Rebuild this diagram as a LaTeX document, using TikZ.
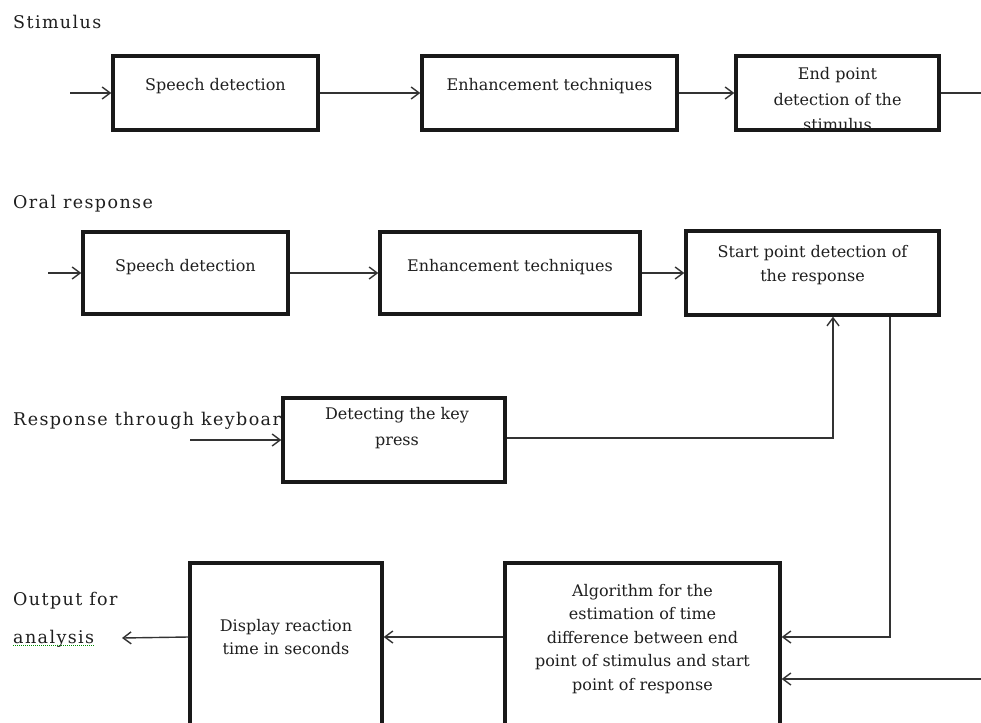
\documentclass[tikz,border=0pt]{standalone}
\usepackage{fontspec}
\setmainfont{DejaVu Serif}
\newfontfamily\lblfont[LetterSpace=8]{DejaVu Serif}
\usetikzlibrary{arrows.meta}

\begin{document}
\begin{tikzpicture}[x=1pt,y=-1pt,
    blk/.style={draw=black!90, line width=3.4pt, fill=white, inner sep=0pt},
    txt/.style={align=center, anchor=base, inner sep=0pt, text=black!88, font=\fontsize{16}{23.5}\selectfont},
    lbl/.style={anchor=base west, inner sep=0pt, text=black!88, font=\lblfont\fontsize{17.5}{20}\selectfont},
    arr/.style={draw=black!80, line width=1.4pt, -{Straight Barb[length=8pt,width=12pt]}},
    ln/.style={draw=black!80, line width=1.4pt}]
  \useasboundingbox (0,0) rectangle (981,722);
  \clip (0,0) rectangle (981,722);
  \fill[white] (0,0) rectangle (981,722);
  \node[lbl] (stim) at (13,29) {Stimulus};
  \node[lbl] (oral) at (13,208) {Oral response};
  \node[lbl] (keyb) at (13,425) {Response through keyboard};
  \node[lbl] (outf) at (13,605) {Output for};
  \node[lbl] (anly) at (13,643) {analysis};
  \draw[green!55!black, densely dotted, line width=1pt] ([yshift=-2pt]anly.base west) -- ([yshift=-2pt]anly.base east);
  \node[blk, minimum width=205pt, minimum height=74pt] (s1) at (215.5,93) {};
  \node[blk, minimum width=255pt, minimum height=74pt] (s2) at (549.5,93) {};
  \node[blk, minimum width=203pt, minimum height=74pt] (s3) at (837.5,93) {};
  \node[blk, minimum width=205pt, minimum height=82pt] (o1) at (185.5,273) {};
  \node[blk, minimum width=260pt, minimum height=82pt] (o2) at (510,273) {};
  \node[blk, minimum width=253pt, minimum height=84pt] (o3) at (812.5,273) {};
  \node[blk, minimum width=222pt, minimum height=84pt] (k) at (394,440) {};
  \node[blk, minimum width=192pt, minimum height=214pt] (d) at (286,670) {};
  \node[blk, minimum width=275pt, minimum height=214pt] (a) at (642.5,670) {};
  \node[txt] (s1t) at (215.5,91) {Speech detection};
  \node[txt] (s2t) at (549.5,91) {Enhancement techniques};
  \begin{scope}
    \clip ([xshift=1.7pt,yshift=1.7pt]s3.south west) rectangle ([xshift=-1.7pt,yshift=-1.7pt]s3.north east);
    \node[txt, font=\fontsize{16}{25.5}\selectfont] (s3t) at (837.5,131) {End point\\detection of the\\stimulus};
  \end{scope}
  \node[txt] (o1t) at (185.5,271) {Speech detection};
  \node[txt] (o2t) at (510,271) {Enhancement techniques};
  \node[txt] (o3t) at (812.5,281) {Start point detection of\\the response};
  \node[txt, font=\fontsize{16}{26}\selectfont] (kt) at (397,445) {Detecting the key\\press};
  \node[txt] (dt) at (286,654.5) {Display reaction\\time in seconds};
  \node[txt] (algt) at (642.5,690) {Algorithm for the\\estimation of time\\difference between end\\point of stimulus and start\\point of response};
  \coordinate (in1) at (70,93);
  \coordinate (out1) at (981,93);
  \coordinate (in2) at (48,273);
  \coordinate (in3) at (190,440);
  \coordinate (kup) at (833,438);
  \coordinate (odn) at (890,637);
  \coordinate (sret) at (981,679);
  \coordinate (outa) at (122,638);
  \draw[arr] (in1) -- (s1);
  \draw[arr] (s1) -- (s2);
  \draw[arr] (s2) -- (s3);
  \draw[ln] (s3) -- (out1);
  \draw[arr] (in2) -- (o1);
  \draw[arr] (o1) -- (o2);
  \draw[arr] (o2) -- (o3);
  \draw[arr] (in3) -- (in3 -| k.west);
  \draw[arr] (kup -| k.east) -- (kup) -- (kup |- o3.south);
  \draw[arr] (odn |- o3.south) -- (odn) -- (odn -| a.east);
  \draw[arr] (sret) -- (sret -| a.east);
  \draw[arr] (odn -| a.west) -- (odn -| d.east);
  \draw[arr] (odn -| d.west) -- (outa);
\end{tikzpicture}
\end{document}
